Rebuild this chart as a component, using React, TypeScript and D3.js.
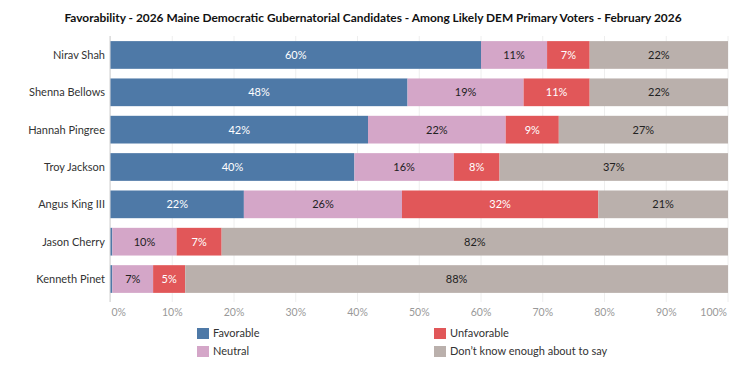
import React from "react";
import * as d3 from "d3";

const title = "Favorability - 2026 Maine Democratic Gubernatorial Candidates - Among Likely DEM Primary Voters - February 2026";
const candidates = ["Nirav Shah", "Shenna Bellows", "Hannah Pingree", "Troy Jackson", "Angus King III", "Jason Cherry", "Kenneth Pinet"];
const seriesNames = ["Favorable", "Neutral", "Unfavorable", "Don\u2019t know enough about to say"];
const favorable = [60.0, 48.1, 41.7, 39.5, 21.6, 0.3, 0.3];
const neutral = [10.7, 18.8, 22.3, 16.1, 25.6, 10.4, 6.6];
const unfavorable = [6.9, 10.7, 8.6, 7.4, 31.8, 7.3, 5.2];
const dontKnow = [22.4, 22.4, 27.4, 37.0, 21.0, 82.0, 87.9];
const labelFavorable = ["60%", "48%", "42%", "40%", "22%", "", ""];
const labelNeutral = ["11%", "19%", "22%", "16%", "26%", "10%", "7%"];
const labelUnfavorable = ["7%", "11%", "9%", "8%", "32%", "7%", "5%"];
const labelDontKnow = ["22%", "22%", "27%", "37%", "21%", "82%", "88%"];
const ticks = [0, 10, 20, 30, 40, 50, 60, 70, 80, 90, 100];

const colors = ["#4e79a7", "#d4a6c8", "#e15759", "#bab0ac"];
const textColors = ["#ffffff", "#222222", "#ffffff", "#222222"];
const FONT = "Lato, 'Open Sans', sans-serif";

export default function App() {
  const W = 739, H = 367;
  const x = d3.scaleLinear().domain([0, 100]).range([110.5, 728]);
  const y = d3.scaleBand().domain(candidates).range([36.3, 297.7]).paddingInner(0.258).paddingOuter(0.129);
  const values = [favorable, neutral, unfavorable, dontKnow];
  const labels = [labelFavorable, labelNeutral, labelUnfavorable, labelDontKnow];
  const table = candidates.map((c, i) => {
    const row: any = { name: c };
    seriesNames.forEach((s, k) => (row[s] = values[k][i]));
    return row;
  });
  const stacked = d3.stack().keys(seriesNames)(table);
  const order = [0, 2, 1, 3];

  return (
    <svg width={W} height={H} style={{ position: "absolute", left: 0, top: 0, background: "#fff" }} fontFamily={FONT}>
      <text x={373} y={22} textAnchor="middle" fontSize={11.9} fontWeight={700} fill="#111">{title}</text>
      {ticks.map((t) => (
        <line key={"g" + t} x1={x(t)} x2={x(t)} y1={36} y2={302} stroke="#eeeeee" strokeWidth={1} />
      ))}
      <line x1={110} x2={110} y1={36} y2={302} stroke="#d0d0d0" strokeWidth={1} />
      {stacked.map((layer, k) =>
        layer.map((d, i) => {
          const x0 = x(d[0]), x1 = x(d[1]);
          const yy = y(candidates[i])!;
          const lbl = labels[k][i];
          return (
            <g key={k + "-" + i}>
              <rect x={x0} y={yy} width={Math.max(0, x1 - x0)} height={y.bandwidth()} fill={colors[k]} />
              {lbl && (
                <text x={(x0 + x1) / 2} y={yy + y.bandwidth() / 2} dy="0.35em" textAnchor="middle" fontSize={11} fill={textColors[k]}>{lbl}</text>
              )}
            </g>
          );
        })
      )}
      {candidates.map((c) => (
        <text key={c} x={105} y={y(c)! + y.bandwidth() / 2} dy="0.35em" textAnchor="end" fontSize={11} fill="#333">{c}</text>
      ))}
      {ticks.map((t, i) => (
        <text key={"t" + t} x={i === 0 ? x(t) + 1 : i === ticks.length - 1 ? x(t) - 1 : x(t)} y={312} dy="0.35em"
          textAnchor={i === 0 ? "start" : i === ticks.length - 1 ? "end" : "middle"} fontSize={10.5} fill="#999">{t}%</text>
      ))}
      {seriesNames.map((s, k) => {
        const idx = order[k];
        const cx = idx % 2 === 0 ? 197 : 434;
        const cy = idx < 2 ? 328 : 346;
        return (
          <g key={s}>
            <rect x={cx} y={cy} width={12} height={11} fill={colors[k]} />
            <text x={cx + 16} y={cy + 5.5} dy="0.35em" fontSize={11} fill="#333">{s}</text>
          </g>
        );
      })}
    </svg>
  );
}
